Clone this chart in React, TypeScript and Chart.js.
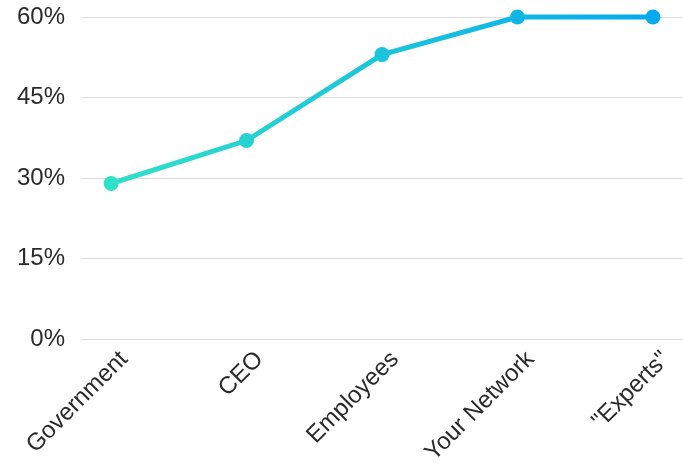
import React, { useEffect, useRef } from "react";
import { Chart, registerables } from "chart.js";

Chart.register(...registerables);

const categories = ["Government", "CEO", "Employees", "Your Network", "\"Experts\""];
const values = [29, 37, 53, 60, 60];
const yTicks = [0, 15, 30, 45, 60];

export default function App() {
  const ref = useRef<HTMLCanvasElement | null>(null);
  useEffect(() => {
    if (!ref.current) return;
    const grad = (ctx: any) => {
      const chart = ctx.chart;
      const area = chart.chartArea;
      if (!area) return "#1cc8e0";
      const xs = chart.scales.x;
      const g = chart.ctx.createLinearGradient(xs.getPixelForValue(0), 0, xs.getPixelForValue(categories.length - 1), 0);
      g.addColorStop(0, "#30e0c8");
      g.addColorStop(1, "#05a9ef");
      return g;
    };
    const zeroPad = (scale: any) => {
      scale.paddingLeft = 0;
      scale.paddingRight = 0;
      scale.paddingTop = 0;
      scale.paddingBottom = 0;
    };
    const chart = new Chart(ref.current, {
      type: "line",
      data: {
        datasets: [
          {
            data: values.map((v, i) => ({ x: i, y: v })),
            borderColor: grad,
            backgroundColor: grad,
            pointBackgroundColor: grad,
            pointBorderColor: grad,
            borderWidth: 5,
            pointRadius: 7.5,
            pointBorderWidth: 0,
            fill: false,
            tension: 0,
            clip: false as any,
          },
        ],
      },
      options: {
        animation: false,
        responsive: false,
        maintainAspectRatio: false,
        layout: { autoPadding: false, padding: { left: 1, top: 17, right: 0, bottom: 1 } },
        plugins: { legend: { display: false }, tooltip: { enabled: false } },
        scales: {
          x: {
            type: "linear",
            min: -0.222,
            max: categories.length - 1 + 0.222,
            grid: { display: false },
            border: { display: false },
            afterBuildTicks: (scale: any) => {
              scale.ticks = categories.map((_, i) => ({ value: i }));
            },
            afterFit: zeroPad,
            ticks: {
              autoSkip: false,
              maxRotation: 45,
              minRotation: 45,
              padding: 4,
              labelOffset: 13,
              color: "#2a2a2a",
              font: { family: "'Liberation Sans', Arial, sans-serif", size: 24, lineHeight: 0.5 },
              callback: (v: any) => categories[Math.round(Number(v))] ?? "",
            },
          },
          y: {
            min: 0,
            max: 60,
            afterBuildTicks: (scale: any) => {
              scale.ticks = yTicks.map((v) => ({ value: v }));
            },
            afterFit: zeroPad,
            grid: { color: "#dddddd", drawTicks: false, lineWidth: 1 },
            border: { display: false },
            ticks: {
              padding: 16,
              color: "#2a2a2a",
              font: { family: "'Liberation Sans', Arial, sans-serif", size: 24 },
              callback: (v: any) => v + "%",
            },
          },
        },
      },
    });
    return () => chart.destroy();
  }, []);
  return (
    <div style={{ position: "fixed", left: 0, top: 0, width: 683, height: 466, background: "#fff" }}>
      <canvas ref={ref} width={683} height={466} style={{ display: "block", width: 683, height: 466 }} />
    </div>
  );
}
